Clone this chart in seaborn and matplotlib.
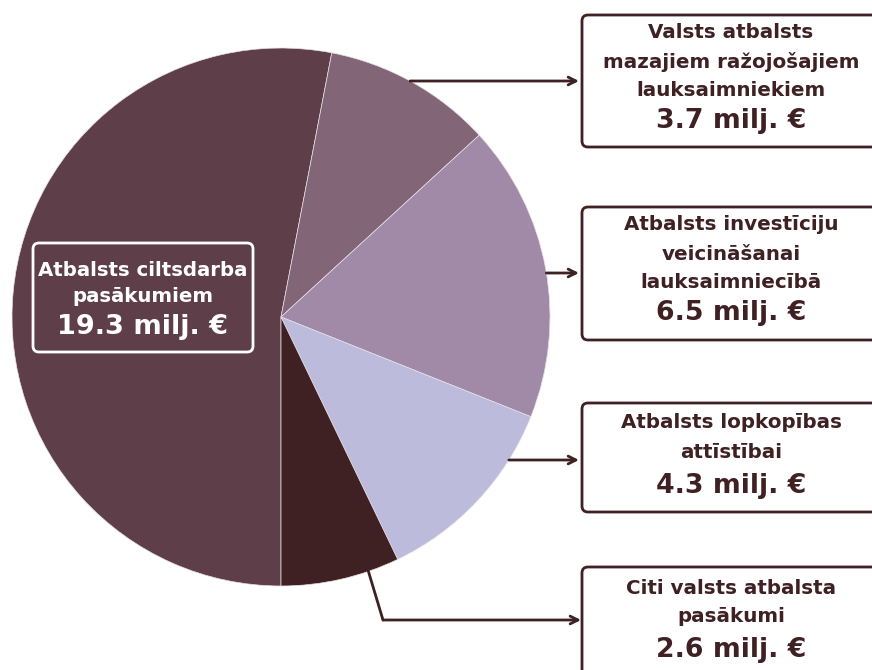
import numpy as np
import seaborn as sns
import matplotlib.pyplot as plt
from matplotlib.patches import FancyBboxPatch

# dati
labels = ["Atbalsts ciltsdarba\npasākumiem",
          "Valsts atbalsts\nmazajiem ražojošajiem\nlauksaimniekiem",
          "Atbalsts investīciju\nveicināšanai\nlauksaimniecībā",
          "Atbalsts lopkopības\nattīstībai",
          "Citi valsts atbalsta\npasākumi"]
values = [19.3, 3.7, 6.5, 4.3, 2.6]
colors = ["#5e3e48", "#826677", "#a08aa8", "#bcbbdc", "#3f2124"]

dark = "#3f2124"
W, H = 872, 670
cx, cy, r = 281, H - 317, 269

sns.set_theme(style="white")
plt.rcParams['font.family'] = ['DejaVu Sans']

fig = plt.figure(figsize=(W / 100, H / 100), dpi=100)
ax = fig.add_axes([0, 0, 1, 1])
ax.pie(values, colors=colors, startangle=270, counterclock=False,
       center=(cx, cy), radius=r, frame=True,
       wedgeprops=dict(edgecolor="#e8e0e6", linewidth=0.5))
ax.set_xlim(0, W)
ax.set_ylim(0, H)
ax.set_aspect("equal")
ax.axis("off")

def box(x0, y0, x1, y1, ec, fc, lw=2.0):
    p = FancyBboxPatch((x0, H - y1), x1 - x0, y1 - y0,
                       boxstyle="round,pad=0,rounding_size=6",
                       ec=ec, fc=fc, lw=lw, zorder=3)
    ax.add_patch(p)

# liela daļa - teksts uz tumšā fona
box(33, 243, 253, 352, "white", "none", lw=2.0)
big_lines = labels[0].split("\n")
ax.text(143, H - 270, big_lines[0], color="white", fontsize=14.2,
        fontweight="bold", ha="center", va="center", zorder=4)
ax.text(143, H - 297, big_lines[1], color="white", fontsize=14.2,
        fontweight="bold", ha="center", va="center", zorder=4)
ax.text(143, H - 327, f"{values[0]} milj. €", color="white", fontsize=19.5,
        fontweight="bold", ha="center", va="center", zorder=4)

# labās puses kastes: (augša, apakša, rindu y, vērtības y, bultas y)
boxes = [
    (15, 147, [33, 62, 91], 121, 81),
    (207, 340, [225, 254, 283], 313, 273),
    (403, 512, [423, 452], 486, 460),
    (567, 700, [588, 617], 650, 620),
]
tx = 731
for i, (top, bot, ly, vy, ay) in enumerate(boxes):
    box(582, top, 890, bot, dark, "white", lw=2.0)
    for s, yy in zip(labels[i + 1].split("\n"), ly):
        ax.text(tx, H - yy, s, color=dark, fontsize=14.3, fontweight="bold",
                ha="center", va="center", zorder=4)
    ax.text(tx, H - vy, f"{values[i + 1]} milj. €", color=dark, fontsize=19.3,
            fontweight="bold", ha="center", va="center", zorder=4)

# bultas no apļa malas
for top, bot, ly, vy, ay in boxes[:3]:
    dy = (H - ay) - cy
    x0 = cx + np.sqrt(r ** 2 - dy ** 2)
    ax.annotate("", xy=(579, H - ay), xytext=(x0, H - ay),
                arrowprops=dict(arrowstyle="->", color=dark, lw=2,
                                shrinkA=0, shrinkB=0, mutation_scale=14),
                zorder=5)

# pēdējā bulta ar lūzumu
ax.plot([368, 383], [H - 570, H - 620], color=dark, lw=2, zorder=5,
        solid_capstyle="round")
ax.annotate("", xy=(581, H - 620), xytext=(383, H - 620),
            arrowprops=dict(arrowstyle="->", color=dark, lw=2,
                            shrinkA=0, shrinkB=0, mutation_scale=14),
            zorder=5)

fig.savefig("out.png", dpi=100)
